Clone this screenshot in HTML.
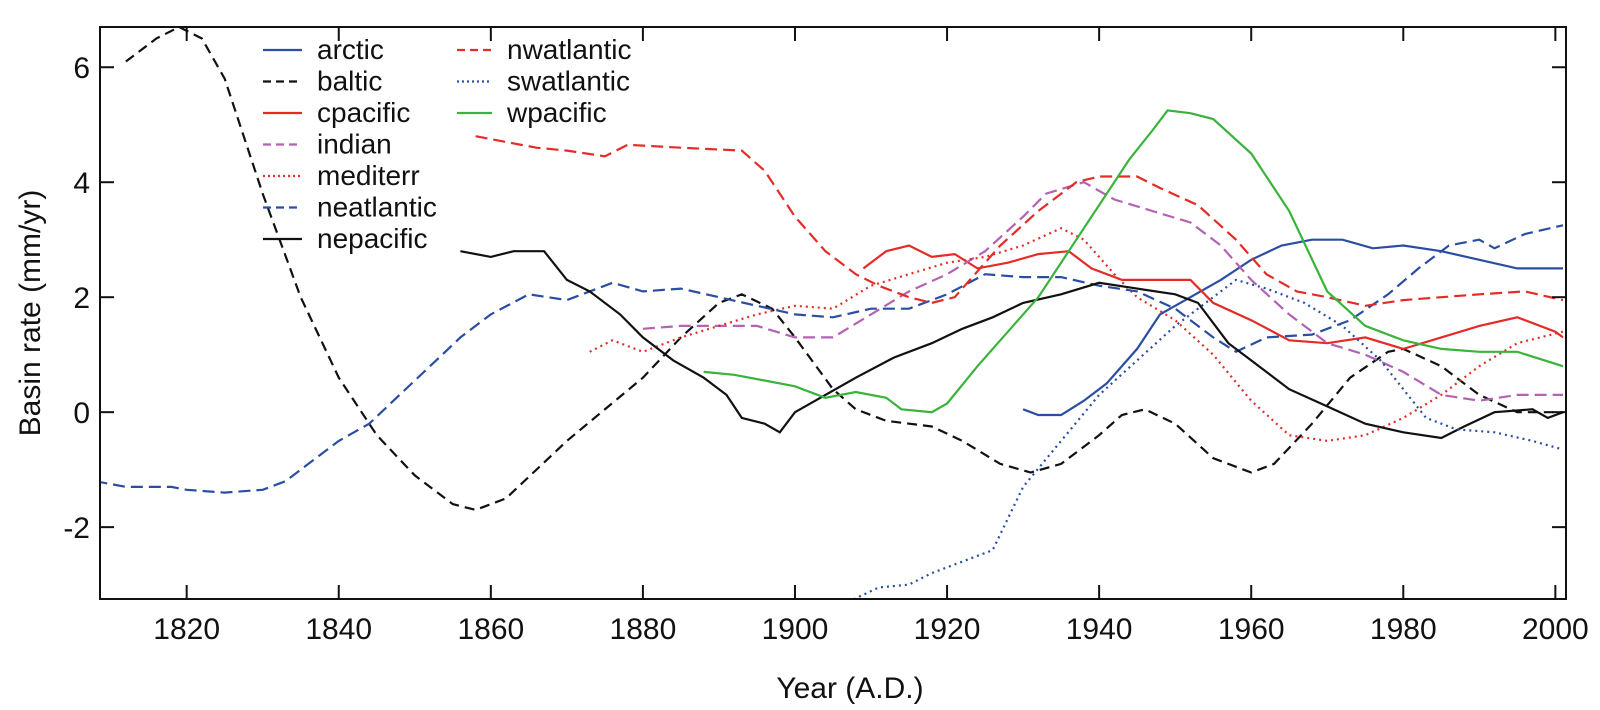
<!DOCTYPE html>
<html><head><meta charset="utf-8"><style>
body{margin:0;background:#fff;}
svg{display:block;font-family:"Liberation Sans",Arial,sans-serif;}
</style></head><body>
<svg id="chart" width="1600" height="710">
<g id="marks"></g>
<g id="axes"></g>
<g id="legend"></g>
<text x="850" y="698" font-size="30" text-anchor="middle" fill="#111">Year (A.D.)</text>
<text x="0" y="0" font-size="30" text-anchor="middle" fill="#111" transform="translate(40,313) rotate(-90)">Basin rate (mm/yr)</text>
</svg>
<script>
const xTicks=[1820,1840,1860,1880,1900,1920,1940,1960,1980,2000];
const yTicks=[-2,0,2,4,6];
const seriesNames=["arctic","baltic","cpacific","indian","mediterr","neatlantic","nepacific","nwatlantic","swatlantic","wpacific"];
const arctic=[[1930,0.05],[1932,-0.05],[1935,-0.05],[1938,0.2],[1941,0.5],[1945,1.1],[1948,1.7],[1952,2.0],[1956,2.3],[1960,2.65],[1964,2.9],[1968,3.0],[1972,3.0],[1976,2.85],[1980,2.9],[1985,2.8],[1990,2.65],[1995,2.5],[2001,2.5]];
const baltic=[[1812,6.1],[1816,6.5],[1819,6.7],[1822,6.5],[1825,5.8],[1830,3.8],[1835,2.0],[1840,0.6],[1845,-0.4],[1850,-1.1],[1855,-1.6],[1858,-1.7],[1862,-1.5],[1870,-0.5],[1880,0.6],[1885,1.3],[1890,1.9],[1893,2.05],[1897,1.8],[1900,1.3],[1905,0.4],[1908,0.05],[1912,-0.15],[1918,-0.25],[1922,-0.5],[1927,-0.9],[1931,-1.05],[1935,-0.9],[1940,-0.4],[1943,-0.05],[1946,0.05],[1950,-0.2],[1955,-0.8],[1960,-1.05],[1963,-0.9],[1968,-0.2],[1973,0.6],[1978,1.05],[1980,1.1],[1985,0.8],[1990,0.3],[1995,0.0],[2001,0.0]];
const cpacific=[[1909,2.5],[1912,2.8],[1915,2.9],[1918,2.7],[1921,2.75],[1924,2.5],[1928,2.6],[1932,2.75],[1936,2.8],[1939,2.5],[1943,2.3],[1948,2.3],[1952,2.3],[1955,1.9],[1960,1.6],[1965,1.25],[1970,1.2],[1975,1.3],[1980,1.1],[1985,1.3],[1990,1.5],[1995,1.65],[2000,1.4],[2001,1.3]];
const indian=[[1880,1.45],[1885,1.5],[1890,1.5],[1895,1.5],[1900,1.3],[1905,1.3],[1910,1.7],[1915,2.1],[1920,2.4],[1925,2.8],[1930,3.4],[1933,3.8],[1938,4.0],[1942,3.7],[1947,3.5],[1952,3.3],[1956,2.9],[1960,2.3],[1965,1.7],[1970,1.2],[1975,1.0],[1980,0.7],[1985,0.3],[1990,0.2],[1995,0.3],[2001,0.3]];
const mediterr=[[1873,1.05],[1876,1.25],[1880,1.05],[1885,1.3],[1890,1.5],[1895,1.7],[1900,1.85],[1905,1.8],[1910,2.2],[1915,2.4],[1920,2.6],[1925,2.7],[1930,2.9],[1935,3.2],[1938,3.0],[1942,2.4],[1945,2.0],[1950,1.6],[1955,1.0],[1960,0.2],[1965,-0.4],[1970,-0.5],[1975,-0.4],[1980,-0.1],[1985,0.3],[1990,0.8],[1995,1.2],[2001,1.4]];
const neatlantic=[[1808,-1.2],[1812,-1.3],[1818,-1.3],[1820,-1.35],[1825,-1.4],[1830,-1.35],[1833,-1.2],[1836,-0.9],[1840,-0.5],[1844,-0.2],[1848,0.3],[1852,0.8],[1856,1.3],[1860,1.7],[1865,2.05],[1870,1.95],[1876,2.25],[1880,2.1],[1885,2.15],[1890,2.0],[1895,1.85],[1900,1.7],[1905,1.65],[1910,1.8],[1915,1.8],[1920,2.05],[1925,2.4],[1930,2.35],[1935,2.35],[1940,2.2],[1945,2.1],[1950,1.8],[1955,1.3],[1958,1.05],[1962,1.3],[1968,1.35],[1973,1.6],[1978,2.05],[1982,2.5],[1986,2.9],[1990,3.0],[1992,2.85],[1996,3.1],[2001,3.25]];
const nepacific=[[1856,2.8],[1860,2.7],[1863,2.8],[1867,2.8],[1870,2.3],[1873,2.1],[1877,1.7],[1880,1.3],[1884,0.9],[1888,0.6],[1891,0.3],[1893,-0.1],[1896,-0.2],[1898,-0.35],[1900,0.0],[1904,0.3],[1908,0.6],[1913,0.95],[1918,1.2],[1922,1.45],[1926,1.65],[1930,1.9],[1935,2.05],[1940,2.25],[1945,2.15],[1950,2.05],[1953,1.9],[1957,1.2],[1960,0.9],[1965,0.4],[1970,0.1],[1975,-0.2],[1980,-0.35],[1985,-0.45],[1988,-0.25],[1992,0.0],[1997,0.05],[1999,-0.1],[2001,0.0]];
const nwatlantic=[[1858,4.8],[1862,4.7],[1866,4.6],[1870,4.55],[1875,4.45],[1878,4.65],[1885,4.6],[1893,4.55],[1896,4.2],[1900,3.4],[1904,2.8],[1908,2.4],[1911,2.2],[1915,2.0],[1918,1.9],[1921,2.0],[1923,2.3],[1927,2.9],[1932,3.5],[1937,4.0],[1940,4.1],[1945,4.1],[1948,3.9],[1953,3.6],[1958,3.0],[1962,2.4],[1966,2.1],[1970,2.0],[1975,1.85],[1980,1.95],[1990,2.05],[1996,2.1],[2001,1.95]];
const swatlantic=[[1907,-3.3],[1911,-3.05],[1915,-3.0],[1918,-2.8],[1922,-2.6],[1926,-2.4],[1930,-1.3],[1935,-0.5],[1940,0.3],[1945,0.9],[1950,1.5],[1955,2.0],[1958,2.3],[1962,2.15],[1967,1.9],[1972,1.5],[1977,0.9],[1980,0.4],[1983,-0.1],[1987,-0.3],[1992,-0.35],[1997,-0.5],[2001,-0.65]];
const wpacific=[[1888,0.7],[1892,0.65],[1896,0.55],[1900,0.45],[1904,0.25],[1908,0.35],[1912,0.25],[1914,0.05],[1918,0.0],[1920,0.15],[1924,0.8],[1928,1.4],[1932,2.0],[1936,2.8],[1940,3.6],[1944,4.4],[1947,4.9],[1949,5.25],[1952,5.2],[1955,5.1],[1960,4.5],[1965,3.5],[1970,2.1],[1975,1.5],[1980,1.25],[1985,1.1],[1990,1.05],[1995,1.05],[2001,0.8]];

const L=100,R=1566,T=27,B=599;
const X0=1808.6,X1=2001.4,Y0=-3.25,Y1=6.7;
const sx=v=>L+(v-X0)/(X1-X0)*(R-L);
const sy=v=>B-(v-Y0)/(Y1-Y0)*(B-T);
const NS="http://www.w3.org/2000/svg";
const blue="#2a4ea2",red="#e42c26",purple="#b462b4",green="#3ab33a",black="#111";
const styles={arctic:[blue,""],baltic:[black,"10,6"],cpacific:[red,""],indian:[purple,"12,6"],mediterr:[red,"2,4"],neatlantic:[blue,"12,6"],nepacific:[black,""],nwatlantic:[red,"12,6"],swatlantic:[blue,"2,4"],wpacific:[green,""]};
const dataMap={arctic,baltic,cpacific,indian,mediterr,neatlantic,nepacific,nwatlantic,swatlantic,wpacific};
const marks=document.getElementById('marks');
const clip=document.createElementNS(NS,'clipPath');clip.id='pc';
const cr=document.createElementNS(NS,'rect');cr.setAttribute('x',L);cr.setAttribute('y',T);cr.setAttribute('width',R-L);cr.setAttribute('height',B-T);
clip.appendChild(cr);document.getElementById('chart').appendChild(clip);
marks.setAttribute('clip-path','url(#pc)');
seriesNames.forEach(n=>{
  const p=document.createElementNS(NS,'path');
  p.setAttribute('d',dataMap[n].map((d,i)=>(i?'L':'M')+sx(d[0]).toFixed(1)+','+sy(d[1]).toFixed(1)).join(''));
  p.setAttribute('fill','none');p.setAttribute('stroke',styles[n][0]);p.setAttribute('stroke-width','2.2');
  if(styles[n][1])p.setAttribute('stroke-dasharray',styles[n][1]);
  
  
  marks.appendChild(p);
});
const axes=document.getElementById('axes');
function ln(x1,y1,x2,y2,name){const l=document.createElementNS(NS,'line');l.setAttribute('x1',x1);l.setAttribute('y1',y1);l.setAttribute('x2',x2);l.setAttribute('y2',y2);l.setAttribute('stroke','#111');l.setAttribute('stroke-width','2');


axes.appendChild(l);}
function tx(x,y,s,anchor,name,size,g){const t=document.createElementNS(NS,'text');t.setAttribute('x',x);t.setAttribute('y',y);t.setAttribute('text-anchor',anchor);t.setAttribute('font-size',size);t.setAttribute('fill','#111');t.textContent=s;


(g||axes).appendChild(t);}
const fr=document.createElementNS(NS,'rect');fr.setAttribute('x',L);fr.setAttribute('y',T);fr.setAttribute('width',R-L);fr.setAttribute('height',B-T);fr.setAttribute('fill','none');fr.setAttribute('stroke','#111');fr.setAttribute('stroke-width','2');


axes.appendChild(fr);
xTicks.forEach(v=>{const x=sx(v);ln(x,B,x,B-14,'x-tick');ln(x,T,x,T+14,'x-tick-top');tx(x,B+40,String(v),'middle','x-tick-label',30);});
yTicks.forEach(v=>{const y=sy(v);ln(L,y,L+14,y,'y-tick');ln(R,y,R-14,y,'y-tick-right');tx(L-10,y+11,String(v),'end','y-tick-label',30);});
const leg=document.getElementById('legend');
seriesNames.forEach((n,i)=>{
  const col=i<7?0:1,row=i<7?i:i-7;
  const lx=col?457:263,lx2=col?492:302,y=50+row*31.5;
  const l=document.createElementNS(NS,'line');l.setAttribute('x1',lx);l.setAttribute('x2',lx2);l.setAttribute('y1',y);l.setAttribute('y2',y);l.setAttribute('stroke',styles[n][0]);l.setAttribute('stroke-width','2.2');
  if(styles[n][1])l.setAttribute('stroke-dasharray',styles[n][1]==='2,4'?'2,3':'8,5');
  
  
  leg.appendChild(l);
  tx(col?507:317,y+9,n,'start','legend-label-'+n,28,leg);
});
</script>
</body></html>
